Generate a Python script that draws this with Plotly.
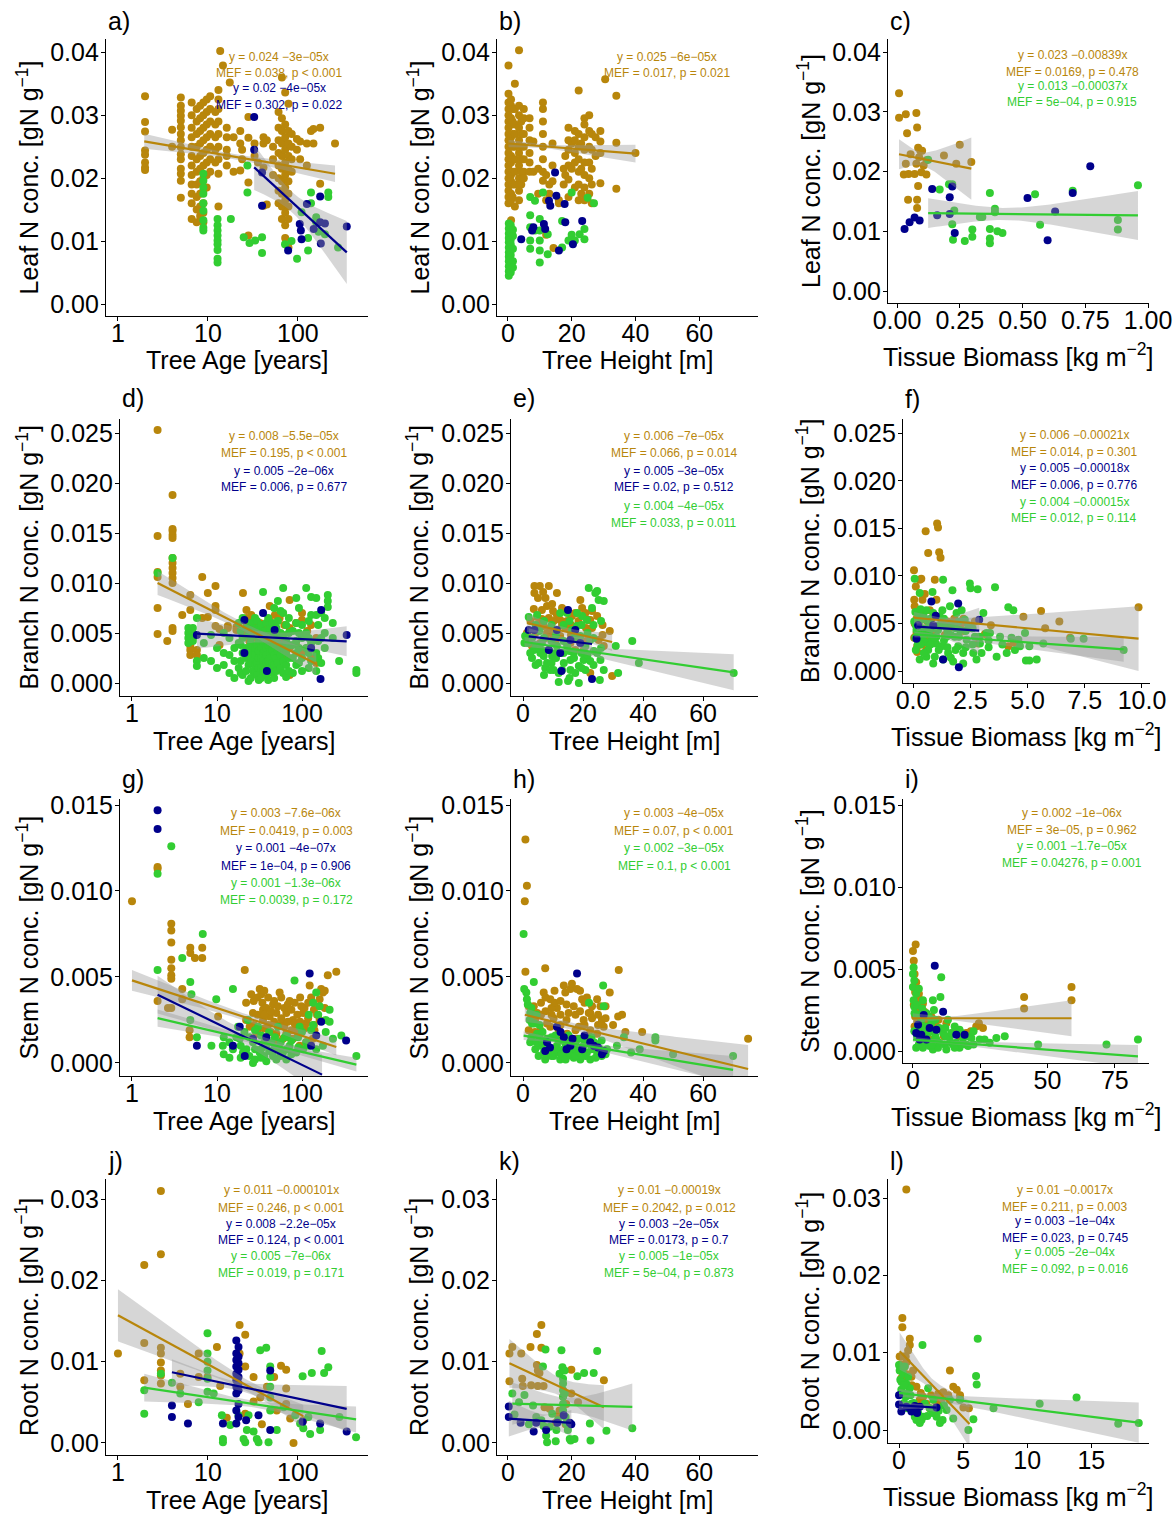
import numpy as np
import plotly.graph_objects as go

W, H = 1176, 1517
COL = {"gold": "#B8860B", "navy": "#00008B", "green": "#32CD32"}
FONT = "Liberation Sans, Arial, Helvetica, sans-serif"

# ---------------- DATA ----------------
# groups: (x, y) or (x, [y, y, ...])
A_GOLD = [(2.0, [0.033, 0.0289, 0.0274, 0.0244, 0.0237, 0.0225, 0.0217, 0.0213]), (4.0, [0.0277, 0.0250]),
          (5.0, [0.0328, 0.0315, 0.0307, 0.0299, 0.0291, 0.0281, 0.027, 0.026, 0.0249, 0.0238, 0.023, 0.0215, 0.0207, 0.0196, 0.0169]),
          (6.6, [0.032, 0.030, 0.028, 0.0265, 0.025, 0.0235, 0.022, 0.0205, 0.019, 0.0175, 0.016, 0.0135]),
          (7.5, [0.031, 0.029, 0.027, 0.025, 0.023, 0.021, 0.019, 0.017, 0.015, 0.013]),
          (8.2, [0.0315, 0.0295, 0.0275, 0.0255, 0.0235, 0.0215, 0.0195, 0.0175, 0.0155, 0.014]),
          (8.9, [0.032, 0.030, 0.028, 0.026, 0.024, 0.022, 0.020, 0.018, 0.016, 0.0145, 0.013]),
          (9.7, [0.0325, 0.0305, 0.0285, 0.0265, 0.0245, 0.0225, 0.0205, 0.0185]),
          (10.6, [0.033, 0.031, 0.029, 0.027, 0.025, 0.023, 0.021]), (12.1, [0.0305, 0.0285, 0.0265, 0.0245, 0.0225]),
          (13.1, [0.034, 0.0325, 0.031, 0.029, 0.027, 0.025, 0.023, 0.0207, 0.0155]),
          (13.7, 0.0402), (14.7, 0.0379), (17.5, 0.0352), (16.2, [0.028, 0.0265, 0.0245, 0.0235, 0.022]),
          (19.3, [0.0265, 0.021]), (22.9, [0.0275, 0.0255, 0.0212]), (24, [0.0245, 0.023]), (28.2, [0.0297, 0.0264, 0.0193, 0.0109]),
          (33, [0.0255, 0.0235]), (36, 0.0225),
          (41.5, [0.0265, 0.0255, 0.0217, 0.0156]), (45.2, [0.026, 0.0158]), (53.0, [0.025, 0.023, 0.0205]),
          (61.0, [0.0305, 0.028, 0.026, 0.024, 0.022, 0.020, 0.018, 0.016]),
          (66.5, [0.036, 0.0295, 0.0275, 0.0255, 0.0235, 0.0215, 0.0195, 0.0175, 0.0155, 0.0135]),
          (72.3, [0.0336, 0.0285, 0.0265, 0.0245, 0.0225, 0.0205, 0.0185, 0.0165, 0.0145, 0.0125, 0.0105]),
          (78.6, [0.0318, 0.0275, 0.0255, 0.0235, 0.0215, 0.0195, 0.0175, 0.0155, 0.0135, 0.009]),
          (85.5, [0.027, 0.025, 0.023, 0.021]), (97.6, [0.0262, 0.0245]), (106, [0.0258, 0.023]), (126, [0.0255, 0.022]),
          (140, 0.0275), (149, [0.0278, 0.0255]), (177, [0.028, 0.0191]), (259, 0.0255)]
A_GREEN = [(8.9, [0.0207, 0.0196, 0.0185, 0.0175, 0.016, 0.0148, 0.0133, 0.0121, 0.0117]),
           (12.8, [0.0135, 0.0125, 0.0117, 0.0109, 0.0101, 0.0095, 0.0086, 0.0072, 0.0066]),
           (18, 0.0135), (25, 0.0106), (27.5, [0.022, 0.0177]), (29, 0.0097), (33.5, 0.0101), (40, [0.0106, 0.0081]),
           (72, 0.0095), (85, 0.01), (98, 0.0072), (110, 0.0146), (130, [0.0105, 0.0085]), (140, [0.0177, 0.016]),
           (160, [0.0138, 0.013]), (170, 0.0115), (200, 0.0111), (218, [0.017, 0.0177]), (280, 0.009)]
A_NAVY = [(32.7, [0.0297, 0.0245]), (40, [0.0156, 0.0209]), (78, 0.0085), (105, 0.0127), (108, 0.0117), (110, 0.0103),
          (126, 0.0159), (150, 0.0119), (177, [0.013, 0.0171]), (180, 0.0096), (200, 0.0128), (350, 0.0123)]

B_GOLD = [(0.2, [0.0379, 0.0334, 0.032, 0.031, 0.030, 0.029, 0.028, 0.027, 0.026, 0.025, 0.024, 0.023, 0.022, 0.021, 0.020, 0.019, 0.018, 0.017, 0.016]),
          (1.0, [0.0325, 0.0315, 0.0295, 0.0285, 0.0265, 0.0255, 0.0235, 0.0225, 0.0205, 0.0195, 0.0175, 0.0165, 0.0133]),
          (1.5, [0.031, 0.029, 0.027, 0.025, 0.023, 0.021, 0.019, 0.017]),
          (2.2, [0.035, 0.031, 0.0285, 0.027, 0.025, 0.023, 0.021, 0.019, 0.0155]),
          (3.5, [0.0403, 0.0315, 0.030, 0.028, 0.026, 0.024, 0.022, 0.020, 0.018, 0.0165]),
          (4.2, [0.029, 0.027, 0.025, 0.023, 0.021, 0.019]),
          (5.0, [0.031, 0.0295, 0.027, 0.025, 0.023, 0.021, 0.020]), (6.8, [0.0295, 0.028, 0.026, 0.024, 0.0225, 0.021]),
          (8.0, [0.0258, 0.021]), (9.5, [0.0215, 0.0175]), (11.0, [0.032, 0.031, 0.029, 0.027, 0.025, 0.023, 0.021, 0.0196]),
          (12.0, [0.0205, 0.0165, 0.011]), (13.0, [0.019, 0.0175]), (14.0, [0.0255, 0.022, 0.0195]), (14.3, 0.0089), (16.0, [0.0165, 0.016]),
          (17.5, [0.0215, 0.019]), (18.0, [0.0235, 0.0205]), (19.0, [0.028, 0.026, 0.0245, 0.022, 0.0198, 0.017]), (20.0, [0.0255, 0.0215]),
          (21.0, [0.0275, 0.026, 0.024, 0.0225, 0.0185]), (22.2, [0.0339, 0.027, 0.025, 0.023, 0.021, 0.019, 0.0165]),
          (23.0, [0.0255, 0.0215, 0.0175]), (24.0, [0.0295, 0.0285, 0.0265, 0.0245, 0.0225, 0.0205, 0.0185, 0.0165]),
          (25.5, [0.030, 0.0275, 0.025, 0.0225, 0.020, 0.0175]), (26.3, [0.027, 0.0245, 0.0215, 0.019, 0.016]),
          (27.5, [0.0265, 0.0235]), (29.0, [0.0275, 0.0258, 0.024, 0.0192]), (30.5, 0.0357),
          (34.0, [0.0331, 0.0256, 0.0183]), (40.0, 0.024)]
B_GREEN = [(0.3, [0.0128, 0.012, 0.0112, 0.0105, 0.0098, 0.009, 0.0082, 0.0075, 0.0068, 0.006, 0.0052, 0.0045]),
           (0.9, [0.0125, 0.0115, 0.0102, 0.0095, 0.0085, 0.0078, 0.007, 0.0062, 0.0055, 0.005]),
           (1.6, [0.0118, 0.0108, 0.0088, 0.0068, 0.0058]), (7.0, [0.017, 0.0141, 0.0122, 0.0101, 0.0088]),
           (8.5, [0.0164, 0.0117]), (10.0, [0.0135, 0.0117, 0.0101, 0.0085, 0.0066]), (11.0, 0.0177),
           (12.5, [0.0111, 0.0079]), (17.0, [0.0132, 0.009]), (19.0, 0.0101), (20.0, [0.0177, 0.011]), (21.0, 0.0101),
           (22.5, 0.0111), (24.0, [0.0119, 0.0103]), (25.0, 0.0169), (27.0, 0.016)]
B_NAVY = [(4.2, 0.0103), (7.6, 0.0117), (8.0, 0.0122), (11.3, 0.0127), (11.7, 0.0119), (12.9, 0.0164), (13.3, 0.0156),
          (14.8, 0.0209), (15.2, 0.0172), (17.8, 0.0159), (18.0, 0.013), (20.4, 0.0095), (23.3, 0.0132), (16.0, 0.0085)]

C_GOLD = [(0.008, [0.0331, 0.029]), (0.035, [0.0296, 0.0213]), (0.04, 0.0264), (0.077, [0.0298, 0.0213]), (0.08, [0.0274, 0.0153, 0.0139]),
          (0.054, 0.0229), (0.027, 0.0195), (0.046, 0.0196), (0.044, 0.0153), (0.07, 0.0196), (0.084, [0.024, 0.0176]),
          (0.088, 0.0224), (0.093, 0.0235), (0.097, 0.0199), (0.1, 0.0235), (0.106, 0.021), (0.117, [0.0195, 0.0219]),
          (0.187, 0.0227), (0.236, 0.0213), (0.25, 0.0245), (0.296, 0.0216)]
C_GREEN = [(0.124, 0.022), (0.17, 0.017), (0.207, 0.0179), (0.22, [0.0179, 0.0112]), (0.223, 0.0086), (0.228, 0.0135),
           (0.27, 0.0084), (0.3, [0.0103, 0.0091]), (0.33, 0.0124), (0.34, 0.0124), (0.37, [0.0164, 0.0104, 0.0088, 0.008]),
           (0.39, [0.0138, 0.0132]), (0.4, 0.01), (0.42, 0.0097), (0.55, 0.0162), (0.57, 0.0111), (0.7, 0.0168),
           (0.88, [0.0119, 0.0103]), (0.96, 0.0177)]
C_NAVY = [(0.03, 0.0104), (0.05, 0.0115), (0.07, 0.0123), (0.09, 0.0118), (0.14, 0.0171), (0.16, 0.0127), (0.21, [0.0157, 0.0129]),
          (0.22, 0.0175), (0.23, 0.0097), (0.52, 0.0156), (0.6, 0.0085), (0.63, 0.0133), (0.7, 0.0164), (0.77, 0.0209)]

D_GOLD = [(2.0, [0.0253, 0.0147, 0.0111, 0.0106, 0.0075, 0.0049]),
          (3.0, [0.0188, 0.0154, 0.0152, 0.0148, 0.0145, 0.0125, 0.012, 0.0115, 0.011, 0.0105, 0.01, 0.0055, 0.0052]),
          (2.6, 0.0042), (3.9, 0.0068), (4.85, [0.0088, 0.0073, 0.0037, 0.0033, 0.0028]), (5.8, [0.0033, 0.0028]),
          (6.7, [0.0106, 0.0065]), (7.8, [0.009, 0.0066]), (9.6, [0.0097, 0.0077, 0.0073, 0.0057]), (10.7, [0.0054, 0.0038]),
          (13.4, [0.0057, 0.0055]), (16.9, [0.0056, 0.0053]), (20.2, 0.009), (22.2, [0.0073, 0.0065, 0.006, 0.0055, 0.005]),
          (24, [0.0048, 0.0042]), (25.3, [0.0068, 0.0063, 0.0058, 0.0054]), (29.0, [0.0058, 0.001, 0.0045]), (32, [0.006, 0.005, 0.0035]),
          (34.8, [0.0055, 0.0045, 0.004]), (41.7, [0.0077, 0.0062, 0.0055, 0.004, 0.0033, 0.002]), (48, [0.0068, 0.005, 0.0038]),
          (54.5, [0.0065, 0.0045, 0.003]), (62, [0.0058, 0.0042, 0.0025]), (71.5, [0.0083, 0.0008, 0.0055, 0.0035]),
          (85, [0.006, 0.004]), (100, [0.007, 0.0063, 0.0047, 0.0033, 0.003]), (115, [0.0052, 0.0035]), (128, [0.0058, 0.0025]),
          (147, [0.0045, 0.002])]
D_GREEN = [(2.0, 0.011), (3.0, 0.0125), (4.6, [0.0055, 0.005, 0.0045, 0.004]), (5.2, [0.0055, 0.005, 0.0045, 0.0042]),
           (5.8, [0.0065, 0.0022, 0.0017]), (7.0, [0.004, 0.0025]), (8.5, [0.0048, 0.0022]), (10.0, [0.0035, 0.0015]),
           (12.0, [0.005, 0.003, 0.0018]), (14.0, [0.0045, 0.0028, 0.001]), (16.0, [0.0035, 0.0022, 0.0005]),
           (18.0, [0.006, 0.004, 0.0015]), (19, [0.0052, 0.0038, 0.0022, 0.001]), (20.0, [0.0065, 0.0045, 0.003, 0.0008]),
           (22.0, [0.0055, 0.0035, 0.0025, 0.0012]), (23.5, [0.0048, 0.0032, 0.0018, 0.0002]),
           (25.0, [0.006, 0.0045, 0.004, 0.003, 0.002, 0.0005]), (26.5, [0.0055, 0.0035, 0.0025, 0.0012]),
           (28.0, [0.0065, 0.005, 0.0035, 0.0028, 0.0018, 0.001]), (29.5, [0.0062, 0.0048, 0.0038, 0.002, 0.0008]),
           (31.0, [0.0055, 0.0042, 0.0032, 0.0025, 0.0015, 0.0003]), (33, [0.0058, 0.0045, 0.0035, 0.0025, 0.0015, 0.0005]),
           (34.8, [0.0091, 0.005, 0.004, 0.003, 0.0022, 0.0012]), (36.5, [0.0052, 0.0042, 0.0032, 0.0018, 0.001]),
           (38.0, [0.006, 0.0045, 0.0035, 0.0028, 0.002, 0.0008]), (40, [0.0065, 0.0048, 0.0038, 0.0022, 0.0012, 0.0003]),
           (42.0, [0.0055, 0.004, 0.003, 0.0025, 0.0015]), (44.5, [0.006, 0.0042, 0.0033, 0.002, 0.001]),
           (47.0, [0.0075, 0.005, 0.0038, 0.0028, 0.0018, 0.0005]), (50, [0.0055, 0.004, 0.0025, 0.0012]),
           (52.0, [0.0082, 0.0062, 0.0045, 0.0032, 0.002]), (56, [0.0072, 0.005, 0.0038, 0.0028, 0.0015]),
           (60.0, [0.0095, 0.007, 0.0048, 0.0035, 0.0022, 0.001]), (65, [0.0058, 0.0042, 0.003, 0.0018, 0.0006]),
           (70.0, [0.0065, 0.005, 0.0038, 0.0025, 0.0012]), (78, [0.0052, 0.0038, 0.0025, 0.001]),
           (85.6, [0.0085, 0.006, 0.0042, 0.003, 0.0018]), (92, [0.0075, 0.005, 0.0035, 0.002]),
           (100, [0.0058, 0.0045, 0.0025, 0.0012]), (112, [0.0095, 0.005, 0.0035]), (120, [0.0062, 0.0045, 0.003, 0.0015]),
           (128, [0.0086, 0.0068, 0.004, 0.0022]), (147, [0.0085, 0.0068, 0.003, 0.0012]), (155, [0.0058, 0.0042, 0.0025]),
           (168, [0.007, 0.0045, 0.002]), (185, [0.0065, 0.005, 0.0035]), (201, [0.0088, 0.0082, 0.0076]), (230, [0.006, 0.0045]),
           (273, 0.0022), (436, [0.0013, 0.001])]
D_NAVY = [(5.8, 0.0048), (21, [0.0063, 0.003]), (34.8, 0.007), (38.6, 0.0012), (47.6, 0.0053), (128, 0.0035), (168, 0.0073),
          (165, 0.0004), (335, 0.0048)]

E_GOLD = [(3.8, 0.0097), (5.6, 0.0097), (6.7, 0.0091), (8.6, 0.0097), (3.8, 0.009), (11.3, 0.009), (3.6, 0.0074), (6.3, 0.0073),
          (8.0, 0.0077), (9.7, 0.0079), (8.6, 0.0065), (4.7, 0.0066), (6.3, 0.0064), (10.2, 0.0062), (11.3, 0.0068), (12.4, 0.0063),
          (14.7, 0.0062), (16.3, 0.0067), (17.4, 0.007), (19.1, 0.0083), (19.7, 0.0075), (20.8, 0.007), (21.9, 0.0063), (22.4, 0.0063),
          (24.7, 0.0067), (1.3, 0.005), (2.2, 0.004), (3.0, 0.0037), (4.1, 0.005), (5.8, 0.004), (6.9, 0.0057), (8.0, 0.005),
          (9.1, 0.0055), (10.8, 0.004), (12.4, 0.0047), (14.1, 0.0055), (15.8, 0.004), (17.4, 0.0033), (19.1, 0.004), (20.2, 0.0033),
          (20.8, 0.0027), (22.4, 0.001), (25.2, 0.0043), (26.9, 0.0037), (28.9, 0.0052), (29.7, 0.0007),
          (2.5, [0.0062, 0.0045]), (5.0, [0.0085, 0.0058]), (7.5, [0.0085, 0.0045]), (10.0, [0.0072, 0.0048]), (13.0, [0.0075, 0.0058]),
          (16.0, [0.0058, 0.0048]), (18.5, [0.0062, 0.0045]), (21.0, [0.0055, 0.0042]), (23.0, [0.0072, 0.0055]), (26.5, [0.0058, 0.0048])]
E_GREEN = [(0.5, 0.004), (0.7, 0.0047), (1.9, 0.0066), (4.7, 0.0068), (3.6, 0.0033), (1.6, 0.004), (2.4, 0.003), (5.2, 0.002),
           (6.3, 0.004), (7.4, 0.0015), (8.6, 0.0033), (9.7, 0.0027), (10.2, 0.0013), (11.3, 0.0037), (11.9, 0.001), (12.4, 0.003),
           (13.6, 0.002), (14.7, 0.0037), (15.8, 0.0013), (16.3, 0.0053), (16.9, 0.003), (18.0, 0.0057), (18.6, 0.0017),
           (19.1, 0.0047), (19.7, 0.0067), (20.2, 0.0023), (20.8, 0.0037), (21.3, 0.0063), (21.9, 0.0095), (23.0, 0.0075),
           (23.6, 0.0032), (24.1, 0.009), (24.7, 0.0092), (25.2, 0.0083), (25.8, 0.0023), (26.9, 0.0082), (22.4, 0.0043),
           (18.0, 0.007), (14.7, 0.007), (12.4, 0.007), (11.9, 0.0001), (15.0, 0.0002), (18.6, 0.0), (25.6, 0.0003),
           (26.9, 0.0013), (30.9, 0.0037), (31.7, 0.001), (36.4, 0.0042), (38.6, 0.002), (70.2, 0.001), (6.9, 0.0027),
           (8.0, 0.002), (9.1, 0.0013), (10.8, 0.003), (13.0, 0.0013), (17.4, 0.001), (20.8, 0.0013), (22.4, 0.0022),
           (24.7, 0.003), (5.8, 0.003), (15.8, 0.0023),
           (3.0, [0.0045, 0.0025]), (4.2, [0.0058, 0.0038, 0.0018]), (5.5, [0.0052, 0.0035]), (7.0, [0.0062, 0.0045, 0.0032, 0.0008]),
           (9.5, [0.0058, 0.0042, 0.002]), (11.0, [0.0048, 0.0025]), (13.5, [0.0058, 0.0042, 0.003]), (15.5, [0.0062, 0.0032, 0.0005]),
           (17.0, [0.0045, 0.0025]), (19.5, [0.0058, 0.003, 0.0015]), (21.5, [0.005, 0.0028]), (23.5, [0.0058, 0.0045, 0.0018]),
           (26.0, [0.0062, 0.0035])]
E_NAVY = [(1.9, 0.0053), (3.8, 0.0053), (8.6, 0.0033), (11.3, 0.0053), (12.8, 0.0012), (15.0, 0.0073), (17.4, 0.0053),
          (19.1, 0.004), (23.0, 0.0004), (12.4, 0.003), (15.8, 0.0043)]

F_GOLD = [(0.04, 0.0106), (0.07, [0.0068, 0.005]), (0.12, 0.0089), (0.18, [0.0026, 0.002]), (0.29, [0.0096, 0.0036]), (0.36, 0.0097),
          (0.41, 0.0075), (0.44, 0.0061), (0.51, 0.0081), (0.55, 0.0147), (0.58, 0.0022), (0.66, 0.0124), (0.73, 0.0064),
          (0.88, 0.004), (0.95, 0.0096), (1.02, 0.0075), (1.05, 0.0155), (1.09, 0.0151), (1.14, 0.0125), (1.2, 0.0119),
          (1.24, 0.005), (1.39, 0.0038), (1.68, 0.0046), (1.9, 0.0047), (2.12, 0.005), (2.55, 0.0045), (2.85, 0.0029),
          (3.14, 0.0039), (4.16, 0.0026), (4.82, 0.0057), (5.59, 0.0063), (5.77, 0.0045), (6.39, 0.0052), (6.86, 0.0035),
          (9.85, 0.0067),
          (0.05, [0.0075, 0.0035]), (0.15, [0.0055, 0.004]), (0.25, [0.0062, 0.0048]), (0.38, 0.0028), (0.62, [0.0052, 0.0035]),
          (0.8, 0.0055), (1.0, 0.0042), (1.3, 0.0055), (1.5, 0.0052), (1.8, 0.0055), (2.2, [0.0042, 0.0055]), (2.7, 0.0052),
          (3.4, 0.0048), (4.4, 0.003)]
F_GREEN = [(0.05, 0.0052), (0.07, 0.0097), (0.1, [0.0062, 0.0035]), (0.15, 0.0043), (0.2, 0.0028), (0.22, 0.0061),
           (0.29, [0.0082, 0.0012]), (0.36, 0.0054), (0.4, 0.0045), (0.44, 0.0033), (0.51, 0.004), (0.58, [0.0064, 0.0015]),
           (0.6, 0.003), (0.66, 0.0022), (0.7, 0.0039), (0.73, 0.0047), (0.8, 0.0033), (0.85, 0.0083), (0.88, [0.0061, 0.0008]),
           (0.95, 0.0015), (1.0, 0.0029), (1.02, 0.0036), (1.09, 0.0043), (1.17, 0.0057), (1.24, 0.0026), (1.28, 0.0064),
           (1.31, [0.0096, 0.0012]), (1.39, 0.0047), (1.46, 0.0036), (1.53, 0.0019), (1.61, 0.0068), (1.68, 0.005), (1.72, 0.0085),
           (1.75, 0.001), (1.82, 0.0036), (1.9, 0.0061), (1.97, 0.0026), (2.04, 0.0043), (2.12, 0.0064), (2.19, [0.0019, 0.0008]),
           (2.26, 0.0054), (2.34, 0.0033), (2.41, 0.0048), (2.48, 0.0092), (2.51, 0.0087), (2.63, 0.0019), (2.7, 0.0036),
           (2.77, 0.0012), (2.82, 0.0086), (2.92, 0.0029), (2.99, 0.0019), (3.07, 0.0061), (3.21, 0.004), (3.36, 0.004),
           (3.58, 0.0088), (3.65, 0.0015), (3.8, 0.0036), (4.09, 0.0019), (4.16, 0.0067), (4.38, 0.0064), (4.45, 0.0022),
           (4.6, 0.0033), (4.67, 0.0026), (4.89, 0.004), (4.93, 0.0011), (5.08, [0.0026, 0.0011]), (5.4, 0.0012), (5.69, 0.0029),
           (6.89, 0.0034), (7.45, 0.0034), (9.2, 0.0022),
           (0.12, [0.0048, 0.0022]), (0.25, [0.0038, 0.0052]), (0.33, [0.0028, 0.0065]), (0.47, [0.0057, 0.0019]),
           (0.62, [0.0045, 0.0053]), (0.76, [0.0028, 0.0055]), (0.92, [0.0045, 0.0035]), (1.12, [0.0022, 0.0048]),
           (1.35, [0.0032, 0.0055]), (1.5, [0.0042, 0.0025]), (1.65, [0.0038, 0.0014]), (1.85, [0.0045, 0.0022]),
           (2.0, [0.0036, 0.0052]), (2.3, [0.0042, 0.0025]), (2.6, [0.0028, 0.0045]), (2.9, 0.0036), (3.3, [0.0025, 0.0032]),
           (3.9, 0.0028), (4.3, 0.0035)]
F_NAVY = [(0.15, 0.0034), (0.22, 0.0048), (0.8, 0.0073), (0.88, 0.0048), (0.99, 0.0058), (1.31, 0.0012), (1.97, 0.0071),
          (2.0, 0.0004), (2.89, 0.0054)]

G_GOLD = [(1.0, 0.0094), (2.0, [0.0114, 0.0113, 0.0036]), (2.9, [0.0081, 0.0077, 0.007, 0.006, 0.0055, 0.0051, 0.0049, 0.0032]),
          (2.65, 0.0032), (3.9, [0.0043, 0.0037]), (4.85, [0.0067, 0.0064]), (5.5, 0.0061), (6.7, [0.0067, 0.0061]),
          (4.76, [0.0019, 0.0015]), (10.3, 0.0027), (21.2, 0.0054), (24.2, 0.0021), (25.3, 0.004), (26.5, 0.0029), (29.0, 0.0017),
          (31.8, 0.0043), (33.2, 0.004), (34.2, 0.0035), (34.8, [0.0031, 0.0025]), (38.0, [0.0032, 0.0015]), (41.7, 0.0027),
          (45.6, 0.0034), (49.9, [0.0029, 0.0017]), (54.5, 0.0041), (59.7, [0.0023, 0.0014]), (65.3, [0.0029, 0.0017]),
          (71.5, 0.0036), (78.3, [0.0025, 0.0014]), (85.6, 0.0021), (93.7, [0.0017, 0.001]), (98, 0.0033), (103, 0.0029),
          (112, [0.0023, 0.0012]), (123, 0.0045), (128, 0.0038), (134, 0.0014), (140, 0.0019), (161, [0.0037, 0.0025]),
          (168, 0.0043), (176, 0.0041), (201, 0.0051), (253, 0.0053),
          (22, [0.0035, 0.0025]), (27, [0.0036, 0.0022]), (30, [0.0038, 0.0028, 0.0018]), (36, [0.0042, 0.0028, 0.002]),
          (40, [0.0038, 0.0022]), (43, [0.003, 0.0018]), (47, [0.0036, 0.0024]), (52, [0.0033, 0.0022, 0.0012]),
          (57, [0.0038, 0.0026]), (62, [0.0032, 0.0021]), (68, [0.0034, 0.0024, 0.0015]), (75, [0.0031, 0.0019]),
          (82, [0.0035, 0.0023]), (88, [0.0028, 0.0018]), (95, [0.0038, 0.0024]), (107, [0.0032, 0.002]), (118, [0.0035, 0.0026]),
          (138, [0.0031, 0.0022]), (150, 0.0028), (185, [0.0032, 0.0042])]
G_GREEN = [(2.0, [0.011, 0.0054]), (2.9, 0.0126), (3.9, 0.0061), (4.85, [0.0047, 0.0025]), (5.0, 0.004), (5.8, 0.0015),
           (6.8, 0.0075), (8.6, 0.001), (9.8, 0.0037), (11.7, 0.001), (15.4, [0.0043, 0.0008]), (16.9, 0.0015), (17.7, 0.0021),
           (18.5, 0.0014), (20.2, 0.0006), (22.2, 0.0008), (23.1, 0.0025), (26.5, [0.0012, 0.0]), (30.4, 0.0021),
           (31.8, 0.0006), (38.0, [0.001, 0.0001]), (43.6, 0.0012), (45.6, 0.0004), (49.9, 0.0002), (52.0, 0.0021),
           (54.5, 0.0008), (59.7, 0.0006), (62.5, 0.0015), (65.3, 0.0002), (71.5, 0.001), (81.6, 0.0048), (85.6, 0.0006),
           (93.7, 0.0021), (103, 0.0008), (112, 0.0012), (128, 0.0019), (147, [0.0041, 0.0008]), (161, 0.0033), (176, 0.001),
           (211, [0.0031, 0.0024]), (231, 0.0014), (290, 0.0016), (436, 0.0004),
           (12, [0.0015, 0.0005]), (14, [0.0012, 0.0003]), (19, [0.001, 0.0003]), (21, [0.0018, 0.0006]), (24, [0.0015, 0.0004]),
           (28, [0.0019, 0.0008, 0.0002]), (33, [0.0016, 0.0008, 0.0003]), (36, [0.0012, 0.0004]), (41, [0.0018, 0.0007]),
           (48, [0.0015, 0.0009]), (56, [0.0012, 0.0004]), (66, [0.0016, 0.0008]), (75, [0.0013, 0.0005]), (90, [0.0015, 0.0009]),
           (100, 0.0018), (120, [0.0028, 0.001]), (135, [0.0035, 0.0022]), (155, 0.0028), (190, [0.0025, 0.0018])]
G_NAVY = [(2.0, [0.0147, 0.0136]), (5.8, 0.001), (15.4, 0.001), (18.5, 0.0021), (21.2, 0.0004), (26.5, 0.0014), (38.0, 0.0015),
          (123, 0.0052), (128, 0.001), (147, 0.0016), (168, 0.0024), (330, 0.0013)]

H_GOLD = [(0.8, [0.013, 0.0053]), (1.3, 0.0103), (0.6, 0.0094), (7.4, 0.0055), (3.6, 0.0033), (1.9, [0.0019, 0.0033]),
          (3.0, 0.0027), (4.7, 0.0029), (5.8, 0.0019), (6.9, 0.0041), (8.0, [0.0023, 0.0014]), (9.1, [0.0037, 0.0021]),
          (10.2, 0.0026), (11.3, [0.0032, 0.0015]), (11.9, 0.0019), (13.6, 0.0045), (14.1, 0.0041), (14.7, 0.0017),
          (15.2, 0.0029), (15.8, 0.0043), (16.3, 0.0046), (16.9, 0.0033), (18.0, [0.0043, 0.0014]), (18.6, 0.0021),
          (19.7, 0.0037), (20.2, 0.0025), (21.3, [0.0038, 0.0015]), (21.9, 0.0029), (22.4, [0.0019, 0.0029]),
          (24.7, [0.0037, 0.0017]), (25.8, 0.0033), (26.3, 0.0025), (26.9, 0.0021), (28.9, 0.0041), (31.9, 0.0054),
          (31.7, 0.0027), (34.1, 0.0018), (39.7, 0.0018), (75, 0.0014),
          (4, [0.0025, 0.0018]), (6, [0.0035, 0.0028]), (7.5, [0.0038, 0.003]), (9.5, [0.0032, 0.0028]), (10.5, [0.0035, 0.0042]),
          (12.5, [0.0028, 0.0022, 0.0036]), (14.5, [0.0034, 0.0025]), (17.5, [0.0028, 0.0019]), (19.0, [0.003, 0.0042]),
          (20.5, [0.0022, 0.0035]), (23.0, [0.0026, 0.0033]), (25.0, [0.0028, 0.0022]), (27.5, [0.0033, 0.0026]), (30.0, 0.0022),
          (33, 0.0028)]
H_GREEN = [(0.2, 0.0075), (0.4, 0.0043), (1.1, 0.0041), (1.3, 0.0037), (1.6, 0.0034), (2.2, 0.0025), (2.4, [0.0029, 0.0012]),
           (3.6, 0.0047), (3.0, 0.0023), (3.8, 0.0023), (4.1, 0.0008), (4.7, 0.0017), (5.2, 0.0004), (5.8, 0.001), (6.9, 0.0006),
           (7.4, 0.0002), (8.0, 0.0014), (9.1, 0.0008), (10.2, 0.0004), (11.3, 0.001), (11.9, 0.0006), (12.4, 0.0002),
           (13.6, 0.0008), (14.7, 0.0004), (15.8, 0.0012), (16.3, 0.0006), (16.9, 0.0003), (18.0, 0.0008), (19.1, 0.0002),
           (20.2, 0.001), (21.3, 0.0006), (22.4, 0.0002), (22.0, 0.0035), (23.6, 0.0012), (24.7, 0.0006), (25.8, 0.0008),
           (26.7, 0.0045), (26.9, 0.0033), (28.0, 0.0008), (31.3, 0.001), (33.6, 0.0015), (36.0, 0.0006), (38.9, 0.0008),
           (44.1, [0.0013, 0.0015]), (50.0, 0.0005), (70.0, 0.0004),
           (2.8, [0.0032, 0.0015]), (4.5, [0.0028, 0.0012]), (5.5, [0.0022, 0.0015]), (6.5, [0.0018, 0.0012]), (7.8, [0.001, 0.0004]),
           (9.5, [0.0015, 0.0004]), (10.8, [0.0008, 0.0016]), (12.8, [0.0013, 0.0005]), (14.2, [0.0011, 0.0002]),
           (15.2, [0.0006, 0.0016]), (17.5, [0.0012, 0.0004]), (18.8, [0.0014, 0.0006]), (20.8, [0.0004, 0.0012]),
           (22.8, [0.0008, 0.0015]), (24.2, [0.0011, 0.0003]), (26.2, [0.0013, 0.0004]), (27.5, 0.0005)]
H_NAVY = [(8.0, 0.0012), (7.4, 0.0007), (11.3, 0.0021), (13.6, 0.0015), (15.8, 0.001), (18.0, 0.0052), (19.7, 0.0008),
          (22.4, 0.0012), (23.6, 0.001), (26.3, 0.0005), (9, 0.0009), (12.5, 0.0018), (14.5, 0.0008), (16.5, 0.0014),
          (20.5, 0.0016), (25, 0.0009), (27, 0.0007)]

I_GOLD = [(0.0, 0.0061), (1.0, 0.0065), (0.6, [0.0047, 0.0015]), (0.25, 0.0039), (1.2, 0.0042), (1.5, 0.0035), (1.9, 0.0031),
          (2.2, 0.0035), (2.5, [0.0027, 0.0011]), (3.1, 0.0023), (3.7, 0.0029), (5.0, 0.0019), (6.2, 0.0007), (6.8, 0.0021),
          (8.7, 0.0015), (10.5, 0.0013), (12.4, 0.0017), (14.9, 0.0011), (17.3, 0.0009), (19.8, 0.0011), (23.5, 0.0015),
          (26.0, 0.0014), (41.3, [0.0033, 0.0026]), (58.9, [0.0039, 0.0031]),
          (0.3, [0.0055, 0.0028]), (0.8, [0.0036, 0.0021]), (1.6, [0.0025, 0.0018]), (2.8, [0.0031, 0.0016]),
          (4.2, [0.0024, 0.0014]), (6.0, 0.0016), (7.5, 0.0012), (9.5, 0.0019), (11.5, 0.0009), (21.5, 0.0012), (24.5, 0.0017)]
I_GREEN = [(0.0, [0.0047, 0.0039]), (0.25, [0.0051, 0.0031]), (0.6, 0.0023), (1.2, [0.0035, 0.0002]), (1.9, 0.0015), (2.5, 0.0007),
           (3.1, 0.0019), (3.7, [0.0031, 0.0002]), (4.3, 0.0004), (5.0, 0.0023), (5.6, 0.0011), (6.2, 0.0003), (6.8, 0.0017),
           (7.4, [0.0031, 0.0001]), (7.8, 0.0025), (8.7, 0.0007), (9.3, 0.0002), (10.2, 0.0033), (10.5, 0.0045), (11.2, 0.0011),
           (11.8, 0.0004), (12.4, 0.0001), (13.0, 0.0019), (13.6, 0.0008), (14.9, 0.0004), (16.1, 0.0005), (17.3, [0.0013, 0.0002]),
           (18.6, 0.0008), (19.8, 0.0004), (21.7, 0.0008), (24.8, 0.0007), (26.6, 0.0007), (28.5, 0.0005), (31.0, 0.0008),
           (34.1, 0.0009), (46.5, 0.0004), (71.9, 0.0004), (83.6, 0.0007),
           (0.5, [0.0043, 0.0027, 0.0012]), (1.5, [0.0028, 0.0009]), (2.2, [0.0038, 0.0022, 0.0004]), (3.4, [0.0026, 0.0012]),
           (4.6, [0.0015, 0.0008]), (5.9, [0.0021, 0.0006]), (7.1, [0.0012, 0.0004]), (8.3, [0.0019, 0.0009]),
           (9.8, [0.0014, 0.0005]), (12.0, [0.0009, 0.0014]), (14.2, [0.0011, 0.0005]), (15.5, [0.0015, 0.0002]),
           (18.0, [0.0011, 0.0004]), (20.5, [0.0009, 0.0003]), (22.5, [0.0012, 0.0004])]
I_NAVY = [(1.2, 0.0011), (1.9, 0.0016), (2.5, 0.0007), (3.1, 0.001), (4.0, 0.0022), (5.0, 0.0007), (6.2, 0.0014), (8.1, 0.0052),
          (8.7, 0.0013), (11.2, 0.0024), (16.1, 0.001), (19.2, 0.001)]

J_GOLD = [(1.0, 0.011), (1.96, [0.0219, 0.0123, 0.0077]), (3.0, [0.031, 0.0232, 0.0117, 0.011, 0.0099, 0.0089, 0.0083, 0.0073]),
          (4.93, [0.0085, 0.0069]), (6.0, 0.0048), (7.9, [0.011, 0.0081]), (9.9, 0.0081), (12.6, 0.0118), (13.7, 0.007),
          (16.2, 0.0031), (22.5, [0.0145, 0.011]), (26.0, [0.0133, 0.0094, 0.0036]), (32.2, [0.0051, 0.0081]), (38.2, 0.0056),
          (39.8, 0.0023), (45.3, 0.0069), (54.5, 0.0081), (58.3, 0.004), (65.0, 0.0095), (74.2, [0.009, 0.0067, 0.0048]),
          (82.2, 0.003), (89.5, 0.0), (115, 0.0028)]
J_GREEN = [(1.96, [0.0065, 0.0036]), (3.0, 0.0085), (3.98, 0.0074), (4.93, 0.0061), (7.9, 0.005),
           (9.9, [0.0135, 0.011, 0.01, 0.0089, 0.0079, 0.0063]), (11.6, 0.0061), (14.3, 0.0034), (14.7, [0.0005, 0.0001]),
           (17.7, 0.0022), (21.9, 0.0034), (24.9, 0.0005), (26.0, 0.0001), (27.1, 0.0016), (28.3, 0.0034), (32.2, 0.0014),
           (35.0, 0.0005), (36.5, 0.0001), (38.2, 0.0114), (44.5, 0.0117), (47.2, 0.0001),
           (49.3, [0.0094, 0.0081, 0.0069, 0.0056, 0.004]), (58.3, 0.0016), (69.4, 0.0044), (93.5, 0.0034), (106, 0.0024),
           (113, 0.0082), (115, 0.0018), (131, 0.0032), (137, 0.0011), (143, 0.0086), (177, 0.0016), (184, 0.0113),
           (196, 0.0086), (218, 0.0093), (290, 0.0032), (444, 0.0007)]
J_NAVY = [(3.98, [0.0046, 0.0032]), (6.0, 0.0024), (14.7, 0.0024),
          (20.7, [0.0126, 0.011, 0.0102, 0.0094, 0.0085, 0.0077, 0.0069, 0.0061, 0.004, 0.0024]),
          (21.9, [0.0118, 0.0106, 0.0098, 0.009, 0.0081, 0.0073, 0.0065, 0.0048, 0.0032]), (26.6, 0.0028), (36.5, 0.0034),
          (49.3, [0.0016, 0.0089]), (113, 0.0026), (177, 0.0024), (349, 0.0014)]

K_GOLD = [(0.5, [0.011, 0.0076]), (1.4, 0.0118), (4.2, 0.011), (4.5, 0.0079), (4.7, 0.007), (7.1, 0.0118), (7.3, 0.0071),
          (9.1, [0.0134, 0.0096]), (9.4, [0.0089, 0.007]), (9.9, 0.0086), (10.5, [0.0145, 0.0117]), (11.2, 0.007), (11.5, 0.0044),
          (13.1, 0.0042), (15.0, 0.0025), (15.7, 0.0034), (16.2, 0.004), (17.3, 0.0057), (18.1, 0.0023), (18.3, 0.0048),
          (19.9, [0.009, 0.0061]), (22.0, 0.005), (30.1, 0.0077)]
K_GREEN = [(1.4, 0.0061), (2.1, 0.0035), (3.5, 0.005), (5.2, 0.0059), (6.6, 0.0023), (7.9, 0.0046), (8.9, 0.0032), (10.5, 0.0028),
           (11.0, 0.0094), (11.8, 0.0115), (11.2, 0.0021), (12.0, 0.0009), (12.3, 0.0001), (13.1, 0.002), (13.9, 0.0036),
           (15.0, 0.0002), (15.2, 0.0016), (15.7, 0.0028), (16.2, 0.0085), (16.8, 0.0114), (17.1, 0.0093),
           (17.3, [0.0079, 0.0073, 0.0065, 0.0057, 0.0048, 0.004]), (17.8, [0.0061, 0.0089]), (18.1, 0.0032), (18.3, 0.0024),
           (18.8, 0.0016), (19.4, 0.0005), (19.7, 0.0003), (20.9, 0.0005), (21.8, 0.0082), (23.9, 0.0086), (25.7, 0.0024),
           (25.9, 0.0003), (26.9, 0.0086), (28.0, 0.0113), (30.9, 0.0015), (39.0, 0.0018)]
K_NAVY = [(0.3, [0.0045, 0.0032]), (4.0, 0.0025), (8.1, 0.0014), (8.9, 0.0025), (12.0, 0.0016), (15.5, 0.0025), (17.5, 0.0034),
          (19.4, 0.0025), (19.9, 0.0023)]

L_GOLD = [(0.57, 0.0311), (0.26, [0.0145, 0.0133]), (0.05, 0.0095), (0.1, 0.0077), (0.18, 0.0067), (0.31, 0.0075), (0.44, 0.0082),
          (0.52, 0.0095), (0.71, 0.0103), (0.84, [0.0118, 0.011]), (0.97, 0.0069), (1.1, 0.0077), (1.36, 0.0056), (1.62, 0.0039),
          (1.88, 0.0043), (2.14, 0.0034), (2.4, 0.0028), (2.72, 0.0039), (2.93, 0.0034), (3.06, 0.0047), (3.19, 0.0043),
          (3.45, 0.0049), (3.84, 0.0045), (3.97, 0.0077), (4.23, 0.0056), (4.76, [0.0045, 0.0039]), (5.02, 0.0029), (5.45, 0.0028),
          (0.15, 0.0085), (0.35, [0.0062, 0.0095]), (0.6, [0.0072, 0.0088]), (1.0, 0.0058), (1.7, 0.0048), (2.5, 0.0045),
          (3.3, 0.0036), (4.5, 0.0052)]
L_GREEN = [(0.0, 0.0084), (0.05, 0.0077), (0.1, 0.0065), (0.18, 0.0052), (0.31, 0.0073), (0.44, 0.0082), (0.57, 0.006),
           (0.71, 0.0069), (0.84, 0.0054), (0.52, 0.0043), (0.97, 0.0034), (1.1, 0.0026), (1.23, 0.0017), (1.36, 0.0013),
           (1.49, 0.0022), (1.62, 0.0009), (1.75, 0.0013), (1.88, 0.0017), (1.83, 0.011), (2.01, 0.0034), (2.27, 0.0054),
           (2.4, 0.0028), (2.67, 0.0039), (2.93, 0.0017), (3.19, 0.0009), (3.4, 0.0013), (3.71, 0.0026), (3.97, 0.0039),
           (4.23, 0.0015), (4.76, 0.0039), (5.41, 0.0), (5.8, 0.0014), (6.01, 0.007), (6.06, 0.0059), (6.14, 0.0118),
           (7.37, 0.0028), (10.97, 0.0034), (13.85, 0.0042), (17.1, 0.0008), (18.7, 0.0009),
           (0.2, [0.0062, 0.0048]), (0.4, [0.0058, 0.0035]), (0.65, [0.0048, 0.0028]), (0.9, 0.0045), (1.15, 0.0035),
           (1.3, 0.0028), (2.2, 0.0018), (2.6, 0.0022), (3.1, 0.0025), (3.5, 0.0032)]
L_NAVY = [(0.0, [0.0045, 0.0033]), (0.18, 0.0024), (0.57, 0.003), (0.84, 0.0028), (0.97, 0.0024), (1.23, 0.0031), (1.41, 0.0022),
          (1.62, 0.003), (2.93, 0.0029)]

# fitted lines: (series, x_start, x_end, y_start, y_end, ci_halfwidth_start, ci_halfwidth_min, ci_halfwidth_end)
A_FITS = [("gold", 1.96, 259, 0.02585, 0.0207, 0.0012, 0.0004, 0.0013), ("navy", 32.7, 350, 0.0217, 0.0082, 0.0036, 0.0016, 0.005)]
B_FITS = [("gold", 0.2, 40, 0.0255, 0.0239, 0.0006, 0.0003, 0.0014)]
C_FITS = [("gold", 0.008, 0.296, 0.0229, 0.0205, 0.0025, 0.0011, 0.0052), ("green", 0.124, 0.96, 0.01305, 0.01266, 0.0025, 0.001, 0.0041)]
D_FITS = [("gold", 2.0, 147, 0.01, 0.0019, 0.0012, 0.0004, 0.0011), ("navy", 5.8, 335, 0.00493, 0.00417, 0.0015, 0.0005, 0.0015)]
E_FITS = [("gold", 1.3, 29.7, 0.006, 0.0041, 0.0009, 0.0004, 0.0009), ("navy", 1.9, 23.0, 0.00467, 0.0039, 0.0008, 0.0004, 0.0008),
          ("green", 0.5, 70.2, 0.0041, 0.00107, 0.0005, 0.0003, 0.0018)]
F_FITS = [("gold", 0.04, 9.85, 0.0056, 0.0034, 0.0006, 0.0003, 0.0034), ("navy", 0.15, 2.89, 0.00466, 0.00424, 0.0005, 0.0004, 0.0024),
          ("green", 0.05, 9.2, 0.00386, 0.00228, 0.0003, 0.0002, 0.0013)]
G_FITS = [("gold", 1.0, 253, 0.0048, 0.00093, 0.0006, 0.0002, 0.0005), ("navy", 2.0, 172, 0.00397, -0.00068, 0.0011, 0.0004, 0.0012),
          ("green", 2.0, 436, 0.00261, -0.0001, 0.0005, 0.00015, 0.0004)]
H_FITS = [("gold", 0.6, 75, 0.0028, -0.00035, 0.0004, 0.0002, 0.0014), ("green", 0.2, 70, 0.00159, -0.0004, 0.00025, 0.0001, 0.0008)]
I_FITS = [("gold", 0.0, 58.9, 0.002, 0.002, 0.0003, 0.0001, 0.0011), ("green", 0.0, 83.6, 0.0007, -0.00033, 0.00015, 0.0001, 0.0007)]
J_FITS = [("gold", 1.0, 115, 0.0157, 0.0033, 0.0032, 0.0007, 0.0014), ("navy", 3.98, 349, 0.0087, 0.0042, 0.0016, 0.0005, 0.0028),
          ("green", 1.96, 444, 0.0068, 0.0029, 0.0017, 0.0004, 0.0016)]
K_FITS = [("gold", 0.5, 30.1, 0.0098, 0.0044, 0.003, 0.0011, 0.0027), ("navy", 0.3, 19.9, 0.003, 0.00246, 0.0022, 0.0008, 0.0016),
          ("green", 1.4, 39.0, 0.00484, 0.00443, 0.0026, 0.0009, 0.0029)]
L_FITS = [("gold", 0.05, 5.5, 0.0102, 0.00077, 0.0024, 0.0008, 0.003), ("navy", 0.0, 2.93, 0.0032, 0.0029, 0.0006, 0.0003, 0.0006),
          ("green", 0.0, 18.7, 0.0048, 0.00095, 0.0005, 0.0004, 0.0026)]

# regression statistics text
A_TXT = [("gold", "y = 0.024 −3e−05x"), ("gold", "MEF = 0.038, p < 0.001"), ("navy", "y = 0.02 −4e−05x"), ("navy", "MEF = 0.302, p = 0.022")]
B_TXT = [("gold", "y = 0.025 −6e−05x"), ("gold", "MEF = 0.017, p = 0.021")]
C_TXT = [("gold", "y = 0.023 −0.00839x"), ("gold", "MEF = 0.0169, p = 0.478"), ("green", "y = 0.013 −0.00037x"), ("green", "MEF = 5e−04, p = 0.915")]
D_TXT = [("gold", "y = 0.008 −5.5e−05x"), ("gold", "MEF = 0.195, p < 0.001"), ("navy", "y = 0.005 −2e−06x"), ("navy", "MEF = 0.006, p = 0.677")]
E_TXT = [("gold", "y = 0.006 −7e−05x"), ("gold", "MEF = 0.066, p = 0.014"), ("navy", "y = 0.005 −3e−05x"), ("navy", "MEF = 0.02, p = 0.512"),
         ("green", "y = 0.004 −4e−05x"), ("green", "MEF = 0.033, p = 0.011")]
F_TXT = [("gold", "y = 0.006 −0.00021x"), ("gold", "MEF = 0.014, p = 0.301"), ("navy", "y = 0.005 −0.00018x"), ("navy", "MEF = 0.006, p = 0.776"),
         ("green", "y = 0.004 −0.00015x"), ("green", "MEF = 0.012, p = 0.114")]
G_TXT = [("gold", "y = 0.003 −7.6e−06x"), ("gold", "MEF = 0.0419, p = 0.003"), ("navy", "y = 0.001 −4e−07x"), ("navy", "MEF = 1e−04, p = 0.906"),
         ("green", "y = 0.001 −1.3e−06x"), ("green", "MEF = 0.0039, p = 0.172")]
H_TXT = [("gold", "y = 0.003 −4e−05x"), ("gold", "MEF = 0.07, p < 0.001"), ("green", "y = 0.002 −3e−05x"), ("green", "MEF = 0.1, p < 0.001")]
I_TXT = [("gold", "y = 0.002 −1e−06x"), ("gold", "MEF = 3e−05, p = 0.962"), ("green", "y = 0.001 −1.7e−05x"), ("green", "MEF = 0.04276, p = 0.001")]
J_TXT = [("gold", "y = 0.011 −0.000101x"), ("gold", "MEF = 0.246, p < 0.001"), ("navy", "y = 0.008 −2.2e−05x"), ("navy", "MEF = 0.124, p < 0.001"),
         ("green", "y = 0.005 −7e−06x"), ("green", "MEF = 0.019, p = 0.171")]
K_TXT = [("gold", "y = 0.01 −0.00019x"), ("gold", "MEF = 0.2042, p = 0.012"), ("navy", "y = 0.003 −2e−05x"), ("navy", "MEF = 0.0173, p = 0.7"),
         ("green", "y = 0.005 −1e−05x"), ("green", "MEF = 5e−04, p = 0.873")]
L_TXT = [("gold", "y = 0.01 −0.0017x"), ("gold", "MEF = 0.211, p = 0.003"), ("navy", "y = 0.003 −1e−04x"), ("navy", "MEF = 0.023, p = 0.745"),
         ("green", "y = 0.005 −2e−04x"), ("green", "MEF = 0.092, p = 0.016")]

# tick labels
AGE_TICKS = [1, 10, 100]
HEIGHT_TICKS = [0, 20, 40, 60]
LEAF_Y = [0, 0.01, 0.02, 0.03, 0.04]
BRANCH_Y = [0, 0.005, 0.01, 0.015, 0.02, 0.025]
STEM_Y = [0, 0.005, 0.01, 0.015]
ROOT_Y = [0, 0.01, 0.02, 0.03]

YT_LEAF = "Leaf N conc. [gN g<sup>−1</sup>]"
YT_BRANCH = "Branch N conc. [gN g<sup>−1</sup>]"
YT_STEM = "Stem N conc. [gN g<sup>−1</sup>]"
YT_ROOT = "Root N conc. [gN g<sup>−1</sup>]"
XT_AGE = "Tree Age [years]"
XT_HEIGHT = "Tree Height [m]"
XT_BIO = "Tissue Biomass [kg m<sup>−2</sup>]"


def fmt(vals, nd):
    return [f"{v:.{nd}f}" for v in vals]


# ---------------- LAYOUT SPECS (pixel geometry) ----------------
PANELS = [
    dict(lab="a)", data=(A_GOLD, A_GREEN, A_NAVY), fits=A_FITS, txt=A_TXT, px=(106, 368), py=(39, 316), log=True,
         xr=[-0.133, 2.78], xt=AGE_TICKS, xtt=["1", "10", "100"], yr=[-0.0019, 0.0421], yt=LEAF_Y, ytt=fmt(LEAF_Y, 2),
         yti=YT_LEAF, xti=XT_AGE, ytx=27, xty=360, laby=21, tx=279, ty=[57, 73, 88, 105]),
    dict(lab="b)", data=(B_GOLD, B_GREEN, B_NAVY), fits=B_FITS, txt=B_TXT, px=(497, 758), py=(39, 316), log=False,
         xr=[-3.4, 78.4], xt=HEIGHT_TICKS, xtt=fmt(HEIGHT_TICKS, 0), yr=[-0.0019, 0.0421], yt=LEAF_Y, ytt=fmt(LEAF_Y, 2),
         yti=YT_LEAF, xti=XT_HEIGHT, ytx=418, xty=360, laby=21, tx=667, ty=[57, 73]),
    dict(lab="c)", data=(C_GOLD, C_GREEN, C_NAVY), fits=C_FITS, txt=C_TXT, px=(888, 1149), py=(39, 303), log=False,
         xr=[-0.036, 1.004], xt=[0, 0.25, 0.5, 0.75, 1.0], xtt=fmt([0, 0.25, 0.5, 0.75, 1.0], 2), yr=[-0.002, 0.0422], yt=LEAF_Y,
         ytt=fmt(LEAF_Y, 2), yti=YT_LEAF, xti=XT_BIO, ytx=809, xty=355, laby=21, tx=1072, ty=[55, 72, 86, 102]),
    dict(lab="d)", data=(D_GOLD, D_GREEN, D_NAVY), fits=D_FITS, txt=D_TXT, px=(120, 368), py=(419, 696), log=True,
         xr=[-0.141, 2.776], xt=AGE_TICKS, xtt=["1", "10", "100"], yr=[-0.0013, 0.0264], yt=BRANCH_Y, ytt=fmt(BRANCH_Y, 3),
         yti=YT_BRANCH, xti=XT_AGE, ytx=27, xty=741, laby=398, tx=284, ty=[436, 453, 471, 487]),
    dict(lab="e)", data=(E_GOLD, E_GREEN, E_NAVY), fits=E_FITS, txt=E_TXT, px=(511, 758), py=(419, 696), log=False,
         xr=[-4.0, 78.3], xt=HEIGHT_TICKS, xtt=fmt(HEIGHT_TICKS, 0), yr=[-0.0013, 0.0264], yt=BRANCH_Y, ytt=fmt(BRANCH_Y, 3),
         yti=YT_BRANCH, xti=XT_HEIGHT, ytx=417, xty=741, laby=398, tx=674, ty=[436, 453, 471, 487, 506, 523]),
    dict(lab="f)", data=(F_GOLD, F_GREEN, F_NAVY), fits=F_FITS, txt=F_TXT, px=(903, 1150), py=(419, 683), log=False,
         xr=[-0.44, 10.35], xt=[0, 2.5, 5, 7.5, 10], xtt=fmt([0, 2.5, 5, 7.5, 10], 1), yr=[-0.00126, 0.0265], yt=BRANCH_Y,
         ytt=fmt(BRANCH_Y, 3), yti=YT_BRANCH, xti=XT_BIO, ytx=808, xty=735, laby=399, tx=1074, ty=[435, 452, 468, 485, 502, 518]),
    dict(lab="g)", data=(G_GOLD, G_GREEN, G_NAVY), fits=G_FITS, txt=G_TXT, px=(120, 368), py=(799, 1076), log=True,
         xr=[-0.141, 2.776], xt=AGE_TICKS, xtt=["1", "10", "100"], yr=[-0.00076, 0.01535], yt=STEM_Y, ytt=fmt(STEM_Y, 3),
         yti=YT_STEM, xti=XT_AGE, ytx=27, xty=1121, laby=779, tx=286, ty=[813, 831, 848, 866, 883, 900]),
    dict(lab="h)", data=(H_GOLD, H_GREEN, H_NAVY), fits=H_FITS, txt=H_TXT, px=(511, 758), py=(799, 1076), log=False,
         xr=[-4.0, 78.3], xt=HEIGHT_TICKS, xtt=fmt(HEIGHT_TICKS, 0), yr=[-0.00076, 0.01535], yt=STEM_Y, ytt=fmt(STEM_Y, 3),
         yti=YT_STEM, xti=XT_HEIGHT, ytx=417, xty=1121, laby=779, tx=674, ty=[813, 831, 848, 866]),
    dict(lab="i)", data=(I_GOLD, I_GREEN, I_NAVY), fits=I_FITS, txt=I_TXT, px=(903, 1149), py=(799, 1063), log=False,
         xr=[-3.7, 87.7], xt=[0, 25, 50, 75], xtt=fmt([0, 25, 50, 75], 0), yr=[-0.00073, 0.01537], yt=STEM_Y, ytt=fmt(STEM_Y, 3),
         yti=YT_STEM, xti=XT_BIO, ytx=808, xty=1115, laby=779, tx=1072, ty=[813, 830, 846, 863]),
    dict(lab="j)", data=(J_GOLD, J_GREEN, J_NAVY), fits=J_FITS, txt=J_TXT, px=(106, 368), py=(1179, 1455), log=True,
         xr=[-0.133, 2.78], xt=AGE_TICKS, xtt=["1", "10", "100"], yr=[-0.00148, 0.03247], yt=ROOT_Y, ytt=fmt(ROOT_Y, 2),
         yti=YT_ROOT, xti=XT_AGE, ytx=27, xty=1500, laby=1161, tx=281, ty=[1190, 1208, 1224, 1240, 1256, 1273]),
    dict(lab="k)", data=(K_GOLD, K_GREEN, K_NAVY), fits=K_FITS, txt=K_TXT, px=(497, 758), py=(1179, 1455), log=False,
         xr=[-3.4, 78.4], xt=HEIGHT_TICKS, xtt=fmt(HEIGHT_TICKS, 0), yr=[-0.00148, 0.03247], yt=ROOT_Y, ytt=fmt(ROOT_Y, 2),
         yti=YT_ROOT, xti=XT_HEIGHT, ytx=417, xty=1500, laby=1161, tx=669, ty=[1190, 1208, 1224, 1240, 1256, 1273]),
    dict(lab="l)", data=(L_GOLD, L_GREEN, L_NAVY), fits=L_FITS, txt=L_TXT, px=(888, 1149), py=(1179, 1443), log=False,
         xr=[-0.86, 19.5], xt=[0, 5, 10, 15], xtt=fmt([0, 5, 10, 15], 0), yr=[-0.00168, 0.03247], yt=ROOT_Y, ytt=fmt(ROOT_Y, 2),
         yti=YT_ROOT, xti=XT_BIO, ytx=808, xty=1495, laby=1161, tx=1065, ty=[1190, 1207, 1221, 1238, 1252, 1269]),
]


def expand(groups):
    xs, ys = [], []
    for x, v in groups:
        vals = v if isinstance(v, (list, tuple)) else [v]
        for y in vals:
            xs.append(x)
            ys.append(y)
    return xs, ys


def band(x0, x1, y0, y1, hw0, hwm, hw1, log):
    u0 = np.log10(x0) if log else x0
    u1 = np.log10(x1) if log else x1
    ds = np.sqrt(max(hw0 ** 2 - hwm ** 2, 0.0))
    de = np.sqrt(max(hw1 ** 2 - hwm ** 2, 0.0))
    k = (ds + de) / (u1 - u0)
    uc = u0 + (ds / k if k > 0 else (u1 - u0) / 2)
    u = np.linspace(u0, u1, 80)
    yy = y0 + (y1 - y0) * (u - u0) / (u1 - u0)
    hw = np.sqrt(hwm ** 2 + (k * (u - uc)) ** 2)
    xx = 10 ** u if log else u
    return xx, yy + hw, yy - hw


fig = go.Figure()
layout = dict(template="none", width=W, height=H, autosize=False, margin=dict(l=0, r=0, t=0, b=0, pad=0, autoexpand=False),
              paper_bgcolor="white", plot_bgcolor="white", showlegend=False,
              font=dict(family=FONT, color="black"))
annotations = []

for i, p in enumerate(PANELS, start=1):
    xname = "x" if i == 1 else f"x{i}"
    yname = "y" if i == 1 else f"y{i}"
    gold, green, navy = p["data"]
    for series, grp in (("gold", gold), ("green", green), ("navy", navy)):
        xs, ys = expand(grp)
        fig.add_trace(go.Scatter(x=xs, y=ys, mode="markers", xaxis=xname, yaxis=yname,
                                 marker=dict(size=8, color=COL[series], line=dict(width=0)),
                                 hoverinfo="skip"))
    for series, x0, x1, y0, y1, h0, hm, h1 in p["fits"]:
        bx, up, lo = band(x0, x1, y0, y1, h0, hm, h1, p["log"])
        fig.add_trace(go.Scatter(x=list(bx) + list(bx[::-1]), y=list(up) + list(lo[::-1]), mode="lines",
                                 fill="toself", fillcolor="rgba(153,153,153,0.4)", line=dict(width=0),
                                 xaxis=xname, yaxis=yname, hoverinfo="skip"))
    for series, x0, x1, y0, y1, h0, hm, h1 in p["fits"]:
        fig.add_trace(go.Scatter(x=[x0, x1], y=[y0, y1], mode="lines", line=dict(color=COL[series], width=2.2),
                                 xaxis=xname, yaxis=yname, hoverinfo="skip"))

    axcommon = dict(showline=True, linecolor="black", linewidth=1.3, ticks="outside", ticklen=4, tickwidth=1.3,
                    tickcolor="black", showgrid=False, zeroline=False, fixedrange=True, automargin=False,
                    mirror=False, tickfont=dict(size=25, color="black", family=FONT))
    layout["xaxis" if i == 1 else f"xaxis{i}"] = dict(
        domain=[p["px"][0] / W, p["px"][1] / W], anchor=yname, type="log" if p["log"] else "linear",
        range=p["xr"], tickvals=p["xt"], ticktext=p["xtt"], ticklabelstandoff=-9, **axcommon)
    layout["yaxis" if i == 1 else f"yaxis{i}"] = dict(
        domain=[1 - p["py"][1] / H, 1 - p["py"][0] / H], anchor=xname,
        range=p["yr"], tickvals=p["yt"], ticktext=p["ytt"], ticklabelstandoff=-3, **axcommon)

    # panel label
    annotations.append(dict(text=p["lab"], x=p["px"][0] / W, y=1 - p["laby"] / H, xref="paper", yref="paper",
                            xanchor="left", yanchor="middle", showarrow=False, font=dict(size=25, color="black")))
    # axis titles
    annotations.append(dict(text=p["yti"], x=p["ytx"] / W, y=1 - (p["py"][0] + p["py"][1]) / 2 / H, xref="paper",
                            yref="paper", textangle=-90, xanchor="center", yanchor="middle", showarrow=False,
                            font=dict(size=25, color="black")))
    annotations.append(dict(text=p["xti"], x=(p["px"][0] + p["px"][1]) / 2 / W, y=1 - p["xty"] / H, xref="paper",
                            yref="paper", xanchor="center", yanchor="middle", showarrow=False,
                            font=dict(size=25, color="black")))
    # stats text
    for (series, t), yy in zip(p["txt"], p["ty"]):
        annotations.append(dict(text=t, x=p["tx"] / W, y=1 - yy / H, xref="paper", yref="paper",
                                xanchor="center", yanchor="middle", showarrow=False,
                                font=dict(size=12, color=COL[series])))

layout["annotations"] = annotations
fig.update_layout(**layout)
fig.write_html("out.html", config={"displayModeBar": False},
               post_script="document.body.style.margin='0';document.body.style.overflow='hidden';")
